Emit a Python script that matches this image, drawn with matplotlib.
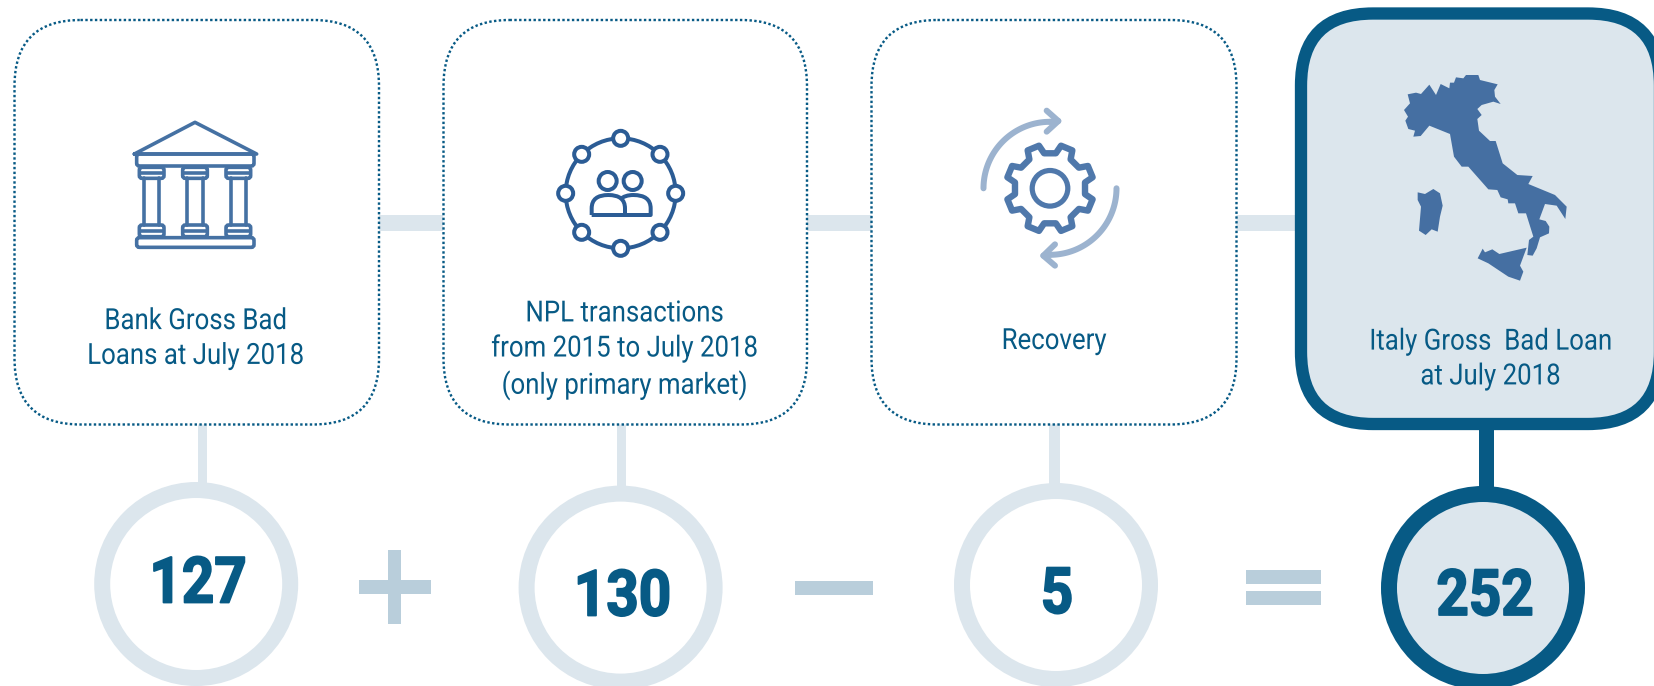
import numpy as np
import matplotlib
matplotlib.use('Agg')
import matplotlib.pyplot as plt
from matplotlib.patches import Circle, FancyBboxPatch, PathPatch, Polygon, Rectangle
from matplotlib.patheffects import AbstractPathEffect
from matplotlib.path import Path
from matplotlib.transforms import Affine2D

box_labels = ['Bank Gross Bad\nLoans at July 2018',
              'NPL transactions\nfrom 2015 to July 2018\n(only primary market)',
              'Recovery',
              'Italy Gross  Bad Loan\nat July 2018']
amounts = ['127', '130', '5', '252']

DARK = '#075a85'
PALE = '#dce6ed'
MID = '#b9cedb'
BANK = '#4571a3'
NET = '#2b5c95'
GEAR = '#4f78ab'
ARROW = '#9cb3cf'
MAP = '#456fa2'


def px(n):
    # pixels to points, figure is at 100 dpi
    return n * 0.72


class Condense(AbstractPathEffect):
    # squeeze text sideways around cx, there is no Roboto Condensed here
    def __init__(self, cx, sx, stroke=0):
        super().__init__()
        self.cx = cx
        self.sx = sx
        self.stroke = stroke

    def draw_path(self, renderer, gc, tpath, affine, rgbFace):
        squeeze = Affine2D().translate(-self.cx, 0).scale(self.sx, 1).translate(self.cx, 0)
        gc0 = renderer.new_gc()
        gc0.copy_properties(gc)
        gc0.set_linewidth(self.stroke)
        gc0.set_foreground(rgbFace)
        renderer.draw_path(gc0, tpath, affine + squeeze, rgbFace)
        gc0.restore()


fig = plt.figure(figsize=(16.54, 6.86), dpi=100)
ax = fig.add_axes([0, 0, 1, 1])
ax.set_xlim(0, 1654)
ax.set_ylim(686, 0)
ax.axis('off')


def rect(x0, y0, x1, y1, color, z=1):
    ax.add_patch(Rectangle((x0, y0), x1 - x0, y1 - y0, fc=color, ec='none', zorder=z))


def label(x, y, s, size, sx, stroke=0, **kw):
    t = ax.text(x, y, s, family='Roboto', fontsize=size, ha='center', va='center',
                color=DARK, zorder=8, **kw)
    t.set_path_effects([Condense(ax.transData.transform((x, y))[0], sx, stroke)])


def rounded(x0, y0, x1, y1, r, **kw):
    ax.add_patch(FancyBboxPatch((x0, y0), x1 - x0, y1 - y0,
                                boxstyle=f'round,pad=0,rounding_size={r}', **kw))


# connectors
for x0, x1 in [(379, 443), (807, 872), (1236, 1296)]:
    rect(x0, 215, x1, 231, PALE)
for x0, x1, y1 in [(197.5, 207, 486), (616.5, 626, 490), (1049, 1059.5, 487)]:
    rect(x0, 424, x1, y1, PALE)
rect(1478.5, 428, 1493.5, 490, DARK)

# boxes
for x0, x1 in [(14.5, 379), (443.5, 807), (871.5, 1236.5)]:
    rounded(x0, 20, x1, 424.5, 66, fc='white', ec=DARK, lw=px(2.4),
            linestyle=(0, (1, 1)), capstyle='butt', zorder=2)
rounded(1301, 13.5, 1660, 424, 72, fc=PALE, ec=DARK, lw=px(12.3), zorder=2)

# circles
for cx, cy in [(196.2, 584), (620.6, 587.6), (1056, 585)]:
    ax.add_patch(Circle((cx, cy), 94, fc='white', ec=PALE, lw=px(16), zorder=3))
ax.add_patch(Circle((1483, 588), 94, fc=PALE, ec=DARK, lw=px(16), zorder=3))

# operators, drawn as bars
rect(358.7, 580.3, 430.7, 594, MID)
rect(388, 550, 401, 624, MID)
rect(795, 581, 873, 595, MID)
rect(1246, 570.3, 1321.3, 584, MID)
rect(1246, 591, 1321.3, 605, MID)

# text
for (x, y), s in zip([(195.5, 338.5), (624.5, 350), (1054, 341), (1490.5, 359)], box_labels):
    label(x, y, s, 21, 0.885, linespacing=1.31)
for (x, y), s in zip([(198, 585), (622.5, 598), (1057, 595.5), (1485, 597.5)], amounts):
    label(x, y, s, 46, 0.885, stroke=1.3, weight='bold')


# bank icon, numbers are in 3x crop pixels
def bank(x, y):
    return 100 + x / 3, 90 + y / 3


def bank_box(x0, y0, x1, y1, r=8):
    a = bank(x0, y0)
    b = bank(x1, y1)
    rounded(a[0], a[1], b[0], b[1], r / 3, fc='none', ec=BANK, lw=px(3.6), zorder=5)


def bank_line(*pts):
    xy = np.array([bank(*p) for p in pts])
    ax.plot(xy[:, 0], xy[:, 1], color=BANK, lw=px(3.6), solid_capstyle='round',
            solid_joinstyle='round', zorder=5)


bank_line((103, 192), (285, 97), (470, 192), (103, 192))
bank_box(110, 192, 462, 228)
bank_box(110, 443, 462, 472)
for c in [155, 285, 415]:
    bank_box(c - 37, 232, c + 37, 265)
    bank_line((c - 34, 248), (c + 34, 248))
    bank_line((c - 23, 265), (c - 23, 405))
    bank_line((c + 23, 265), (c + 23, 405))
    bank_box(c - 37, 405, c + 37, 440)
    bank_line((c - 34, 423), (c + 34, 423))


# network icon
def net(x, y):
    return 530 + x / 3, 110 + y / 3


ax.add_patch(Circle(net(272, 250), 55, fc='none', ec=NET, lw=px(4), zorder=5))
for x, y in [(272, 85), (272, 415), (107, 250), (437, 250),
             (155, 133), (390, 133), (155, 367), (390, 367)]:
    ax.add_patch(Circle(net(x, y), 7.5, fc='white', ec=NET, lw=px(4), zorder=6))
for x in [233, 308]:
    ax.add_patch(Circle(net(x, 213), 9, fc='white', ec=NET, lw=px(4), zorder=6))
C3 = Path.CURVE3
body_left = [(185, 315), (185, 295), (185, 255), (235, 255), (285, 255), (285, 295), (285, 315), (185, 315)]
codes_left = [Path.MOVETO, Path.LINETO, C3, C3, C3, C3, Path.LINETO, Path.LINETO]
body_right = [(270, 268), (285, 255), (310, 255), (362, 255), (362, 295), (362, 315), (285, 315)]
codes_right = [Path.MOVETO, C3, C3, C3, C3, Path.LINETO, Path.LINETO]
for pts, codes in [(body_left, codes_left), (body_right, codes_right)]:
    ax.add_patch(PathPatch(Path([net(*p) for p in pts], codes), fc='none', ec=NET,
                           lw=px(4), joinstyle='round', zorder=6))

# gear icon
gear_c = (1050, 188.3)
gear_pts = []
for k in range(8):
    a = np.deg2rad(22.5 + 45 * k)
    for r, da in [(35.5, -13), (44, -8), (44, 8), (35.5, 13)]:
        gear_pts.append((gear_c[0] + r * np.cos(a + np.deg2rad(da)),
                         gear_c[1] + r * np.sin(a + np.deg2rad(da))))
ax.add_patch(Polygon(gear_pts, closed=True, fc='none', ec=GEAR, lw=px(6.4), joinstyle='round', zorder=5))
ax.add_patch(Circle(gear_c, 17.8, fc='none', ec=GEAR, lw=px(5.2), zorder=5))

# recycle arrows
for start, stop, head in [(180, 270, [(290, 62), (325, 93), (290, 125)]),
                          (0, 90, [(315, 463), (280, 497), (315, 527)])]:
    t = np.deg2rad(np.linspace(start, stop, 60))
    ax.plot(gear_c[0] + 66.5 * np.cos(t), gear_c[1] + 66.5 * np.sin(t), color=ARROW,
            lw=px(6), solid_capstyle='round', zorder=5)
    xy = np.array([(950 + x / 3, 90 + y / 3) for x, y in head])
    ax.plot(xy[:, 0], xy[:, 1], color=ARROW, lw=px(6), solid_capstyle='round',
            solid_joinstyle='round', zorder=5)
    tip = xy[1]
    end = (gear_c[0] + 66.5 * np.cos(t[-1]), gear_c[1] + 66.5 * np.sin(t[-1]))
    ax.plot([end[0], tip[0]], [end[1], tip[1]], color=ARROW, lw=px(6), solid_capstyle='round', zorder=5)

mainland = [(72, 150), (90, 130), (83, 103), (108, 98), (123, 102), (148, 74), (168, 105), (182, 72),
            (208, 85), (210, 68), (222, 68), (228, 52), (250, 55), (258, 45), (295, 45), (300, 60),
            (353, 73), (343, 90), (345, 110), (362, 132), (340, 125), (305, 135), (292, 147), (305, 165),
            (292, 177), (297, 212), (330, 243), (347, 243), (368, 310), (412, 345), (458, 348), (445, 372),
            (525, 405), (560, 440), (556, 477), (530, 437), (495, 432), (478, 478), (497, 483), (508, 500),
            (507, 520), (480, 532), (470, 565), (458, 587), (442, 585), (447, 540), (460, 530), (438, 460),
            (415, 460), (405, 430), (385, 430), (383, 418), (362, 412), (352, 390), (325, 388), (265, 320),
            (245, 320), (222, 290), (210, 222), (148, 197), (122, 228), (100, 230), (105, 212), (85, 207),
            (76, 182), (84, 170)]
sardinia = [(113, 397), (135, 402), (160, 387), (180, 400), (188, 437), (180, 470), (173, 515), (155, 508),
            (137, 525), (117, 512), (123, 440), (113, 420)]
sicily = [(293, 595), (308, 566), (315, 577), (337, 568), (358, 582), (440, 563), (420, 617), (430, 635),
          (420, 662), (385, 650), (358, 632), (325, 610)]
for shape in [mainland, sardinia, sicily]:
    ax.add_patch(Polygon([(1380 + x / 3, 60 + y / 3) for x, y in shape], closed=True,
                         fc=MAP, ec='none', zorder=5))

fig.savefig('out.png', dpi=100)
